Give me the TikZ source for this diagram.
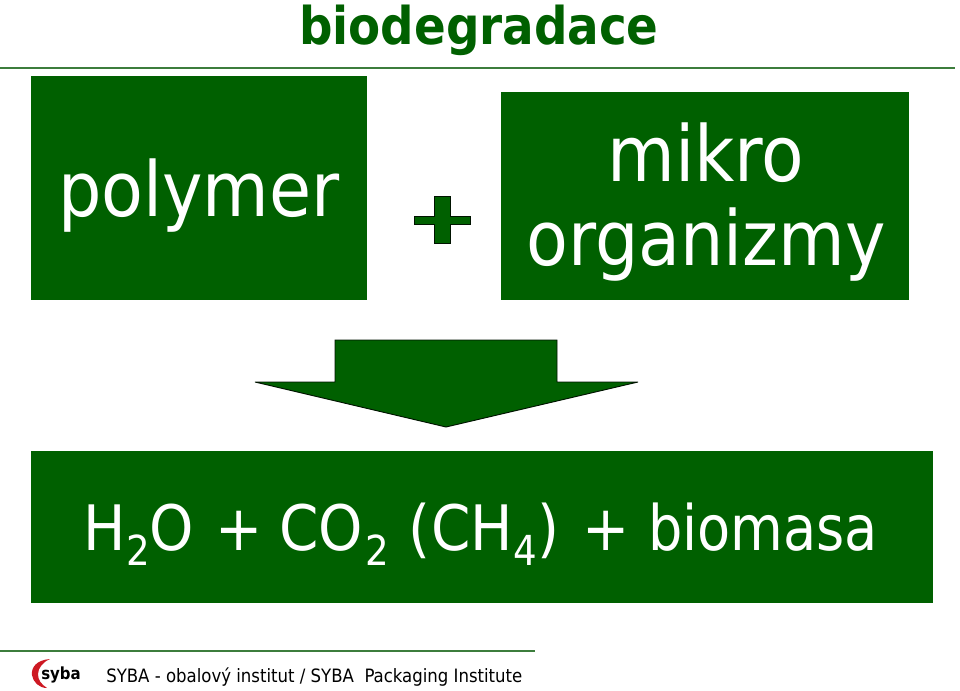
\documentclass[tikz,border=0pt]{standalone}
\usepackage{fontspec}
\setmainfont{DejaVu Sans}
\newfontfamily\condfont{DejaVu Sans Condensed}
\definecolor{gr}{RGB}{0,96,0}
\definecolor{ln}{RGB}{60,125,60}
\definecolor{red1}{RGB}{205,25,35}
\tikzset{
 box/.style={fill=gr,draw=none,inner sep=0pt},
 big/.style={text=white,inner sep=0pt,anchor=base,font=\condfont\fontsize{58}{58}\selectfont},
 frm/.style={text=white,inner sep=0pt,anchor=base west,font=\condfont\fontsize{47}{47}\selectfont},
 sub/.style={text=white,inner sep=0pt,anchor=base west,font=\condfont\fontsize{31}{31}\selectfont},
 rule/.style={draw=ln,line width=0.8pt},
 shp/.style={fill=gr,draw=black!80!gr,line width=0.7pt,miter limit=1.5}
}
\begin{document}
\begin{tikzpicture}[x=0.75pt,y=-0.75pt]
\useasboundingbox (0,0) rectangle (960,690);
\node[anchor=base,inner sep=0pt,text=gr,font=\condfont\bfseries\fontsize{39}{39}\selectfont] (title) at (479,44) {biodegradace};
\coordinate (r1a) at (0,68); \coordinate (r1b) at (955,68);
\draw[rule] (r1a) -- (r1b);
\fill[box] (31,76) rectangle (367,300);
\fill[box] (501,92) rectangle (909,300);
\fill[box] (31,451) rectangle (933,603);
\node[big,font=\condfont\fontsize{57}{57}\selectfont] (poly) at (199,216) {polymer};
\node[big] (mikro) at (706,181) {mikro};
\node[big,font=\condfont\fontsize{57}{57}\selectfont] (org) at (706,265) {organizmy};
\node[frm] (f1) at (83,550) {H};
\node[sub] (s1) at (126,565) {2};
\node[frm] (f2) at (149,550) {O};
\node[frm] (f3) at (215,550) {+};
\node[frm] (f4) at (279,550) {CO};
\node[sub] (s2) at (365,565) {2};
\node[frm] (f5) at (408,550) {(};
\node[frm] (f5b) at (431,550) {CH};
\node[sub] (s3) at (513,565) {4};
\node[frm] (f6) at (537,550) {)};
\node[frm] (f7) at (582,550) {+};
\node[frm] (f8) at (648,550) {\scalebox{0.96}[1]{biomasa}};
\draw[shp] (434,196) -- (450,196) -- (450,216) -- (470,216) -- (470,224) -- (450,224) -- (450,243) -- (434,243) -- (434,224) -- (414,224) -- (414,216) -- (434,216) -- cycle;
\draw[shp] (335,340) -- (557,340) -- (557,382) -- (638,382) -- (446,427) -- (255,382) -- (335,382) -- cycle;
\coordinate (r2a) at (0,651); \coordinate (r2b) at (535,651);
\draw[rule] (r2a) -- (r2b);
\fill[red1] (50,659) .. controls (36,660) and (31,668) .. (32,675) .. controls (33,682) and (39,688) .. (47,688) .. controls (41,684) and (38,680) .. (38,674) .. controls (38,668) and (43,662) .. (50,659) -- cycle;
\node[anchor=base west,inner sep=0pt,font=\condfont\bfseries\fontsize{12.5}{13}\selectfont] (syba) at (41,679) {syba};
\node[anchor=base west,inner sep=0pt,font=\condfont\fontsize{13.8}{14}\selectfont] (foot) at (106,682) {SYBA - obalový institut / SYBA\ \ Packaging Institute};
\end{tikzpicture}
\end{document}
